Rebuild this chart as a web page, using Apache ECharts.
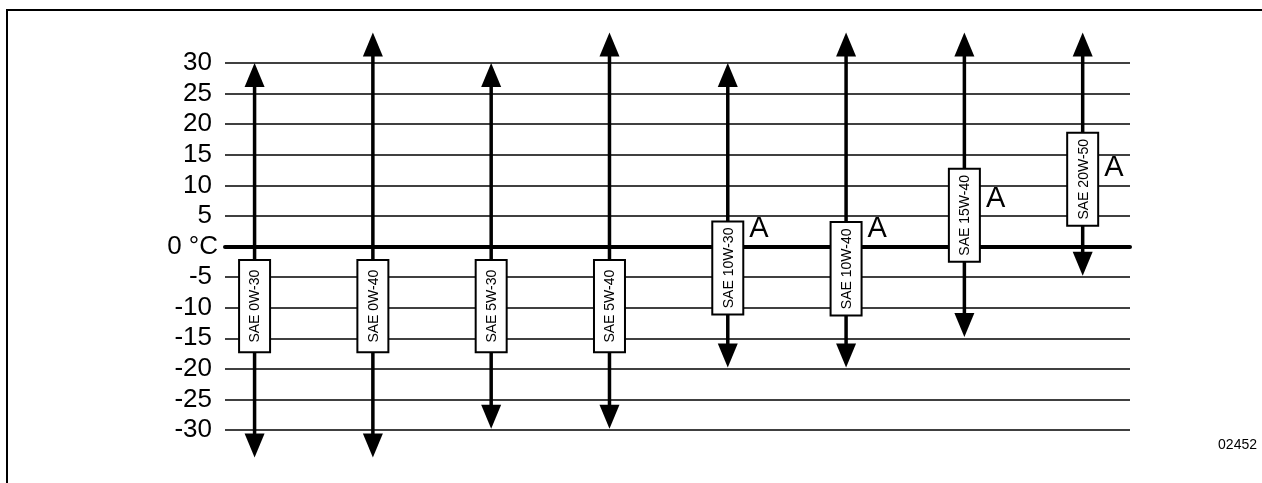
<!DOCTYPE html>
<html>
<head>
<meta charset="utf-8">
<script src="https://cdn.jsdelivr.net/npm/echarts@6/dist/echarts.min.js"></script>
<style>
  html, body { margin: 0; padding: 0; background: #fff; }
  #chart { width: 1262px; height: 483px; }
</style>
</head>
<body>
<div id="chart"></div>
<script>
// viscosity grades and their temperature ranges (°C)
const grades = ['SAE 0W-30', 'SAE 0W-40', 'SAE 5W-30', 'SAE 5W-40', 'SAE 10W-30', 'SAE 10W-40', 'SAE 15W-40', 'SAE 20W-50']
const rangeLow = [-34.5, -34.5, -29.8, -29.8, -19.8, -19.8, -14.8, -4.8]
const rangeHigh = [30, 35, 30, 35, 30, 35, 35, 35]
const boxTop = [-2.2, -2.2, -2.2, -2.2, 4.1, 4.0, 12.7, 18.6]
const boxBottom = [-17.3, -17.3, -17.3, -17.3, -11.1, -11.3, -2.5, 3.4]
const notes = ['', '', '', '', 'A', 'A', 'A', 'A']
const noteAt = [0, 0, 0, 0, 2.8, 2.8, 7.8, 12.8]
const zeroLabel = '0 °C'
const figureId = '02452'

const FONT = '"Liberation Sans", Arial, sans-serif'

const chart = echarts.init(document.getElementById('chart'))

function renderGrade(params, api) {
  const i = params.dataIndex
  const x = api.value(0)
  const low = api.coord([x, api.value(1)])
  const high = api.coord([x, api.value(2)])
  const bTop = api.coord([x, api.value(3)])
  const bBot = api.coord([x, api.value(4)])
  const cx = low[0]
  const headH = 24
  const headW = 10
  const boxW = 31

  const children = [
    {
      type: 'line',
      shape: { x1: cx, y1: high[1] + headH - 2, x2: cx, y2: low[1] - headH + 2 },
      style: { stroke: '#000', lineWidth: 3.5 }
    },
    {
      type: 'polygon',
      shape: { points: [[cx, high[1]], [cx - headW, high[1] + headH], [cx + headW, high[1] + headH]] },
      style: { fill: '#000' }
    },
    {
      type: 'polygon',
      shape: { points: [[cx, low[1]], [cx - headW, low[1] - headH], [cx + headW, low[1] - headH]] },
      style: { fill: '#000' }
    },
    {
      type: 'rect',
      shape: { x: cx - boxW / 2, y: bTop[1], width: boxW, height: bBot[1] - bTop[1] },
      style: { fill: '#fff', stroke: '#000', lineWidth: 2 }
    },
    {
      type: 'text',
      x: cx + 1,
      y: (bTop[1] + bBot[1]) / 2,
      rotation: Math.PI / 2,
      style: {
        text: grades[i],
        fill: '#000',
        font: '14px ' + FONT,
        align: 'center',
        verticalAlign: 'middle'
      }
    }
  ]

  if (notes[i]) {
    const ny = api.coord([x, noteAt[i]])[1]
    children.push({
      type: 'text',
      x: cx + boxW / 2 + 6,
      y: ny,
      style: {
        text: notes[i],
        fill: '#000',
        font: '29px ' + FONT,
        align: 'left',
        verticalAlign: 'middle'
      }
    })
  }

  return { type: 'group', children }
}

chart.setOption({
  animation: false,
  backgroundColor: '#fff',
  grid: {
    left: 225,
    right: 132,
    top: 63,
    bottom: 53
  },
  xAxis: {
    type: 'value',
    min: -0.25,
    max: 7.4,
    axisLine: { show: true, onZero: true, lineStyle: { color: '#000', width: 4 } },
    axisTick: { show: false },
    axisLabel: { show: false },
    splitLine: { show: false }
  },
  yAxis: {
    type: 'value',
    min: -30,
    max: 30,
    interval: 5,
    axisLine: { show: false },
    axisTick: { show: false },
    axisLabel: {
      color: '#000',
      fontSize: 26,
      fontFamily: FONT,
      margin: 13,
      formatter: v => (v === 0 ? '{z|' + zeroLabel + '}' : String(v)),
      rich: {
        z: { fontSize: 26, fontFamily: FONT, color: '#000', padding: [0, -6, 0, 0] }
      }
    },
    splitLine: { lineStyle: { color: '#000', width: 1.5 } }
  },
  graphic: [
    {
      type: 'rect',
      shape: { x: 7, y: 10, width: 1300, height: 520 },
      style: { fill: 'none', stroke: '#000', lineWidth: 2 },
      silent: true
    },
    {
      type: 'text',
      right: 5,
      top: 438,
      style: { text: figureId, fill: '#000', font: '14px ' + FONT }
    }
  ],
  series: [
    {
      type: 'custom',
      clip: false,
      z: 5,
      renderItem: renderGrade,
      data: grades.map((g, i) => [i, rangeLow[i], rangeHigh[i], boxTop[i], boxBottom[i]])
    }
  ]
})
</script>
</body>
</html>
